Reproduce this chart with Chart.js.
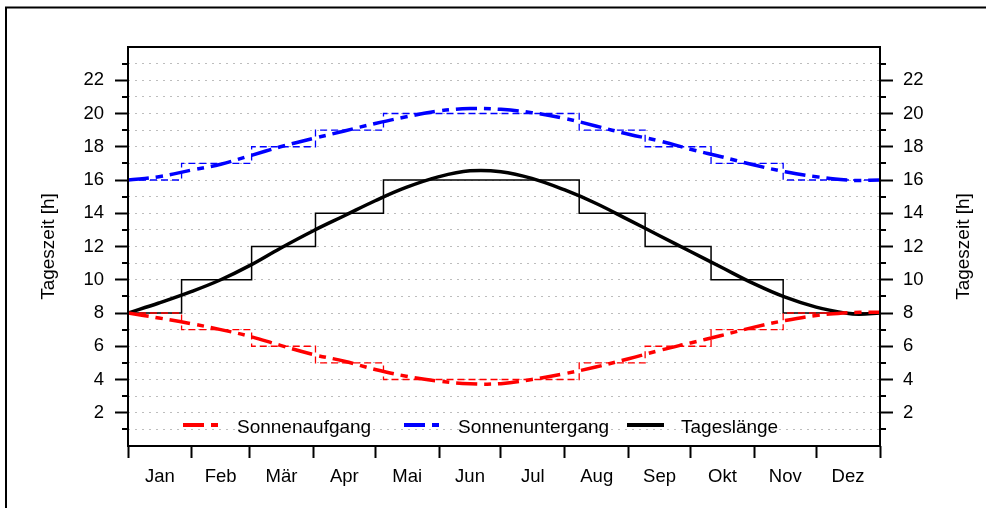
<!DOCTYPE html>
<html><head><meta charset="utf-8">
<script src="https://cdn.jsdelivr.net/npm/chart.js@4/dist/chart.umd.min.js"></script>
<style>html,body{margin:0;padding:0;background:#fff;}canvas{display:block;}</style>
</head><body>
<canvas id="c" width="986" height="508"></canvas>
<script>
// ---- data ----
const monthLabels = ['Jan','Feb','Mär','Apr','Mai','Jun','Jul','Aug','Sep','Okt','Nov','Dez'];
const monthStartDays = [0,31,59,90,120,151,181,212,243,273,304,334,365];
const sampleDays = [0,15,31,45,59,74,90,105,120,135,151,166,181,196,212,227,243,258,273,288,304,319,334,349,355,365];
const sunrise   = [8.0,7.7,7.35,7.0,6.6,6.05,5.5,5.1,4.6,4.2,3.9,3.75,3.75,4.0,4.35,4.75,5.25,5.75,6.2,6.65,7.15,7.55,7.85,8.02,8.04,8.05];
const sunset    = [16.0,16.2,16.6,16.95,17.45,18.0,18.5,18.95,19.4,19.8,20.15,20.3,20.25,20.05,19.7,19.25,18.75,18.35,17.85,17.4,16.9,16.5,16.2,16.0,15.97,16.0];
const dayLength = [8.0,8.6,9.3,10.0,10.85,11.9,12.95,13.85,14.75,15.55,16.2,16.55,16.5,16.1,15.4,14.6,13.6,12.65,11.7,10.75,9.75,8.95,8.35,7.98,7.93,8.0];
const stepDays      = [0,26,60,91,124,219,251,283,318,365];
const sunriseStep   = [8,7,6,5,4,5,6,7,8,8];
const sunsetStep    = [16,17,18,19,20,19,18,17,16,16];
const dayLengthStep = [8,10,12,14,16,14,12,10,8,8];
const yTickValues = [1,2,3,4,5,6,7,8,9,10,11,12,13,14,15,16,17,18,19,20,21,22,23];
const seriesNames = ['Sonnenaufgang','Sonnenuntergang','Tageslänge'];
const axisTitle = 'Tageszeit [h]';

// ---- helpers ----
const FONT = "'Liberation Sans', Arial, sans-serif";
Chart.defaults.font.family = FONT;
const pts = (xs, ys) => xs.map((x, i) => ({x: x, y: ys[i]}));
const monthMids = monthLabels.map((m, i) => (monthStartDays[i] + monthStartDays[i + 1]) / 2);
const xTickValues = monthStartDays.concat(monthMids).sort((a, b) => a - b);
const smoothDash = [21, 7, 7, 7];
const stepDash = [7, 4];
const colors = ['#ff0000', '#0000ff', '#000000'];

const decor = {
  id: 'decor',
  afterDraw(chart) {
    const ctx = chart.ctx, a = chart.chartArea, ys = chart.scales.y;
    ctx.save();
    ctx.strokeStyle = '#000';
    ctx.lineWidth = 2;
    // minor ticks
    yTickValues.filter(v => v % 2 === 1).forEach(v => {
      const p = Math.round(ys.getPixelForValue(v));
      ctx.beginPath();
      ctx.moveTo(a.left - 6, p); ctx.lineTo(a.left, p);
      ctx.moveTo(a.right, p); ctx.lineTo(a.right + 6, p);
      ctx.stroke();
    });
    // plot box
    ctx.strokeRect(a.left, a.top, a.right - a.left, a.bottom - a.top);
    // outer frame
    ctx.beginPath();
    ctx.moveTo(6, chart.height); ctx.lineTo(6, 7.5); ctx.lineTo(chart.width, 7.5);
    ctx.stroke();
    // axis titles
    ctx.fillStyle = '#000';
    ctx.font = '19px ' + FONT;
    ctx.textAlign = 'center';
    ctx.textBaseline = 'alphabetic';
    const cy = (a.top + a.bottom) / 2;
    [a.left - 74.5, a.right + 88.5].forEach(x => {
      ctx.save();
      ctx.translate(x, cy);
      ctx.rotate(-Math.PI / 2);
      ctx.fillText(axisTitle, 0, 0);
      ctx.restore();
    });
    // legend
    const lx = [183, 404, 627];
    const ly = 425;
    ctx.textAlign = 'left';
    chart.data.datasets.slice(0, 3).forEach((ds, i) => {
      ctx.save();
      ctx.strokeStyle = ds.borderColor;
      ctx.lineWidth = 4;
      ctx.setLineDash(ds.borderDash || []);
      ctx.beginPath();
      ctx.moveTo(lx[i], ly); ctx.lineTo(lx[i] + 37, ly);
      ctx.stroke();
      ctx.restore();
      ctx.fillText(ds.label, lx[i] + 54, ly + 8);
    });
    ctx.restore();
  }
};

const yCommon = {
  min: 0, max: 24,
  afterBuildTicks: s => { s.ticks = yTickValues.map(v => ({value: v})); },
  ticks: {autoSkip: false, font: {size: 18.5}, color: '#000', callback: v => (v % 2 === 0 ? String(v) : '')},
  border: {display: false, dash: [2, 5]},
};

new Chart(document.getElementById('c'), {
  type: 'line',
  data: {
    datasets: [
      {label: seriesNames[0], data: pts(sampleDays, sunrise), borderColor: colors[0], borderWidth: 3.5, borderDash: smoothDash, tension: 0.4, pointRadius: 0, fill: false},
      {label: seriesNames[1], data: pts(sampleDays, sunset), borderColor: colors[1], borderWidth: 3.5, borderDash: smoothDash, tension: 0.4, pointRadius: 0, fill: false},
      {label: seriesNames[2], data: pts(sampleDays, dayLength), borderColor: colors[2], borderWidth: 3.5, borderDash: [], tension: 0.4, pointRadius: 0, fill: false},
      {label: 'step1', data: pts(stepDays, sunriseStep), stepped: 'before', borderColor: colors[0], borderWidth: 1.3, borderDash: stepDash, pointRadius: 0, fill: false},
      {label: 'step2', data: pts(stepDays, sunsetStep), stepped: 'before', borderColor: colors[1], borderWidth: 1.3, borderDash: stepDash, pointRadius: 0, fill: false},
      {label: 'step3', data: pts(stepDays, dayLengthStep), stepped: 'before', borderColor: colors[2], borderWidth: 1.5, pointRadius: 0, fill: false}
    ]
  },
  options: {
    responsive: false,
    animation: false,
    layout: {padding: {top: 47, left: 0, right: 0, bottom: 0}},
    plugins: {legend: {display: false}, tooltip: {enabled: false}},
    scales: {
      x: {
        type: 'linear', position: 'bottom', min: 0, max: 365,
        afterBuildTicks: s => { s.ticks = xTickValues.map(v => ({value: v})); },
        ticks: {autoSkip: false, maxRotation: 0, minRotation: 0, padding: 8, font: {size: 18.5}, color: '#000',
          callback: v => { const i = monthMids.indexOf(v); return i >= 0 ? monthLabels[i] : ''; }},
        grid: {drawOnChartArea: false, drawTicks: true, tickLength: 12, tickWidth: 2,
          tickColor: c => (monthStartDays.includes(c.tick.value) ? '#000' : 'rgba(0,0,0,0)')},
        border: {display: false},
        afterFit: s => { s.height = 62; }
      },
      y: Object.assign({}, yCommon, {
        position: 'left',
        ticks: Object.assign({}, yCommon.ticks, {padding: 11}),
        grid: {color: '#bdbdbd', lineWidth: 1, drawOnChartArea: true, drawTicks: true, tickLength: 13, tickWidth: 2, tickBorderDash: [],
          tickColor: c => (c.tick.value % 2 === 0 ? '#000' : 'rgba(0,0,0,0)')},
        afterFit: s => { s.width = 128; }
      }),
      y2: Object.assign({}, yCommon, {
        position: 'right',
        ticks: Object.assign({}, yCommon.ticks, {padding: 10}),
        grid: {drawOnChartArea: false, drawTicks: true, tickLength: 13, tickWidth: 2, tickBorderDash: [],
          tickColor: c => (c.tick.value % 2 === 0 ? '#000' : 'rgba(0,0,0,0)')},
        afterFit: s => { s.width = 106; }
      })
    }
  },
  plugins: [decor]
});
</script>
</body></html>
